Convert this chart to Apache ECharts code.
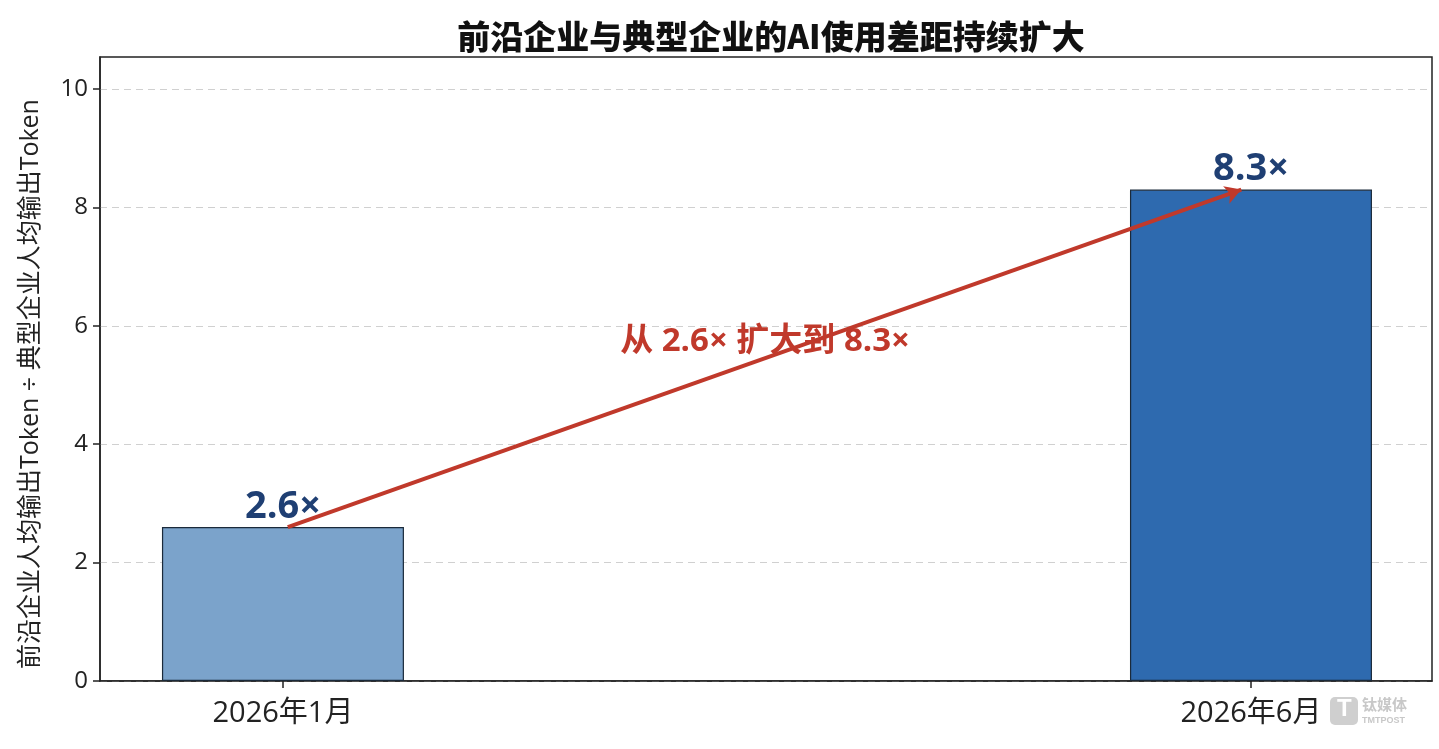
<!DOCTYPE html>
<html><head><meta charset="utf-8">
<script src="https://cdn.jsdelivr.net/npm/echarts@6/dist/echarts.min.js"></script>
<style>html,body{margin:0;padding:0;background:#fff}#c{width:1439px;height:749px}</style>
</head><body><div id="c"></div>
<script>
const categories = ['2026年1月', '2026年6月'];
const ratios = [2.6, 8.3];
const yTicks = [0, 2, 4, 6, 8, 10];
const title = '前沿企业与典型企业的AI使用差距持续扩大';
const yName = '前沿企业人均输出Token ÷ 典型企业人均输出Token';
const annotation = '从 2.6× 扩大到 8.3×';

const barColors = ['#7BA3CB', '#2E6AAF'];
const FONT = '"Open Sans","Noto Sans CJK SC",sans-serif';
const chart = echarts.init(document.getElementById('c'));
const xs = categories.map((_, i) => i);
chart.setOption({
  animation: false,
  backgroundColor: '#fff',
  title: { text: title, left: 766, top: 15, textAlign: 'center',
    textStyle: { fontFamily: '"Noto Sans CJK SC",sans-serif', fontWeight: 900, fontSize: 33, color: '#111' } },
  grid: { left: 100, top: 57, width: 1332, height: 624, show: true, borderColor: '#222', borderWidth: 1.5, containLabel: false },
  xAxis: {
    type: 'value', min: -0.189, max: 1.187,
    axisLine: { show: true, onZero: false, lineStyle: { color: '#222', width: 1.5 } },
    splitLine: { show: false },
    axisTick: { show: true, customValues: xs, inside: false, length: 7, lineStyle: { color: '#222', width: 1.5 } },
    axisLabel: { customValues: xs, formatter: v => categories[Math.round(v)] ?? '', margin: 18,
      fontFamily: FONT, fontSize: 29, color: '#222' }
  },
  yAxis: {
    type: 'value', min: 0, max: 10.54,
    axisLine: { show: true, onZero: false, lineStyle: { color: '#222', width: 1.5 } },
    axisTick: { show: true, customValues: yTicks, length: 7, lineStyle: { color: '#222', width: 1.5 } },
    axisLabel: { customValues: yTicks, margin: 12, fontFamily: FONT, fontSize: 24, color: '#222' },
    splitLine: { show: true, lineStyle: { color: '#d0d0d0', type: [7, 5], width: 1.2 } }
  },
  series: [{
    type: 'bar', barWidth: 242,
    data: xs.map((x, i) => ({ value: [x, ratios[i]], itemStyle: { color: barColors[i] } })),
    itemStyle: { borderColor: '#1b2a3a', borderWidth: 1.2 },
    label: { show: true, position: 'top', distance: 1, formatter: p => p.value[1] + '×',
      fontFamily: FONT, fontWeight: 'bold', fontSize: 38, color: '#1F3F73' },
    markLine: {
      silent: true, symbol: ['none', 'arrow'], symbolSize: [14, 16],
      lineStyle: { color: '#C0392B', width: 4, type: 'solid' },
      label: { show: false },
      data: [[{ coord: [0.005, ratios[0]] }, { coord: [0.99, ratios[1]] }]]
    },
    markPoint: {
      silent: true, symbol: 'circle', symbolSize: 1,
      itemStyle: { color: 'rgba(0,0,0,0)' },
      data: [{ coord: [0.498, 5.74] }],
      label: { show: true, formatter: annotation, position: 'inside',
        fontFamily: FONT, fontWeight: 'bold', fontSize: 33, color: '#C0392B' }
    }
  }],
  graphic: [
    { type: 'text', x: 31, y: 384, rotation: Math.PI / 2,
      style: { text: yName, font: '25px "Open Sans","Noto Sans CJK SC",sans-serif', fill: '#222',
        align: 'center', verticalAlign: 'middle' } },
    { type: 'rect', left: 1330, top: 697, shape: { width: 28, height: 28, r: 5 }, style: { fill: '#cfcfcf' } },
    { type: 'text', left: 1337, top: 697, style: { text: 'T', font: 'bold 24px sans-serif', fill: '#fff' } },
    { type: 'text', left: 1362, top: 697, style: { text: '钛媒体', font: 'bold 15px "Noto Sans CJK SC"', fill: '#c8c8c8' } },
    { type: 'text', left: 1362, top: 716, style: { text: 'TMTPOST', font: 'bold 9px sans-serif', fill: '#c8c8c8' } }
  ]
});
</script></body></html>
